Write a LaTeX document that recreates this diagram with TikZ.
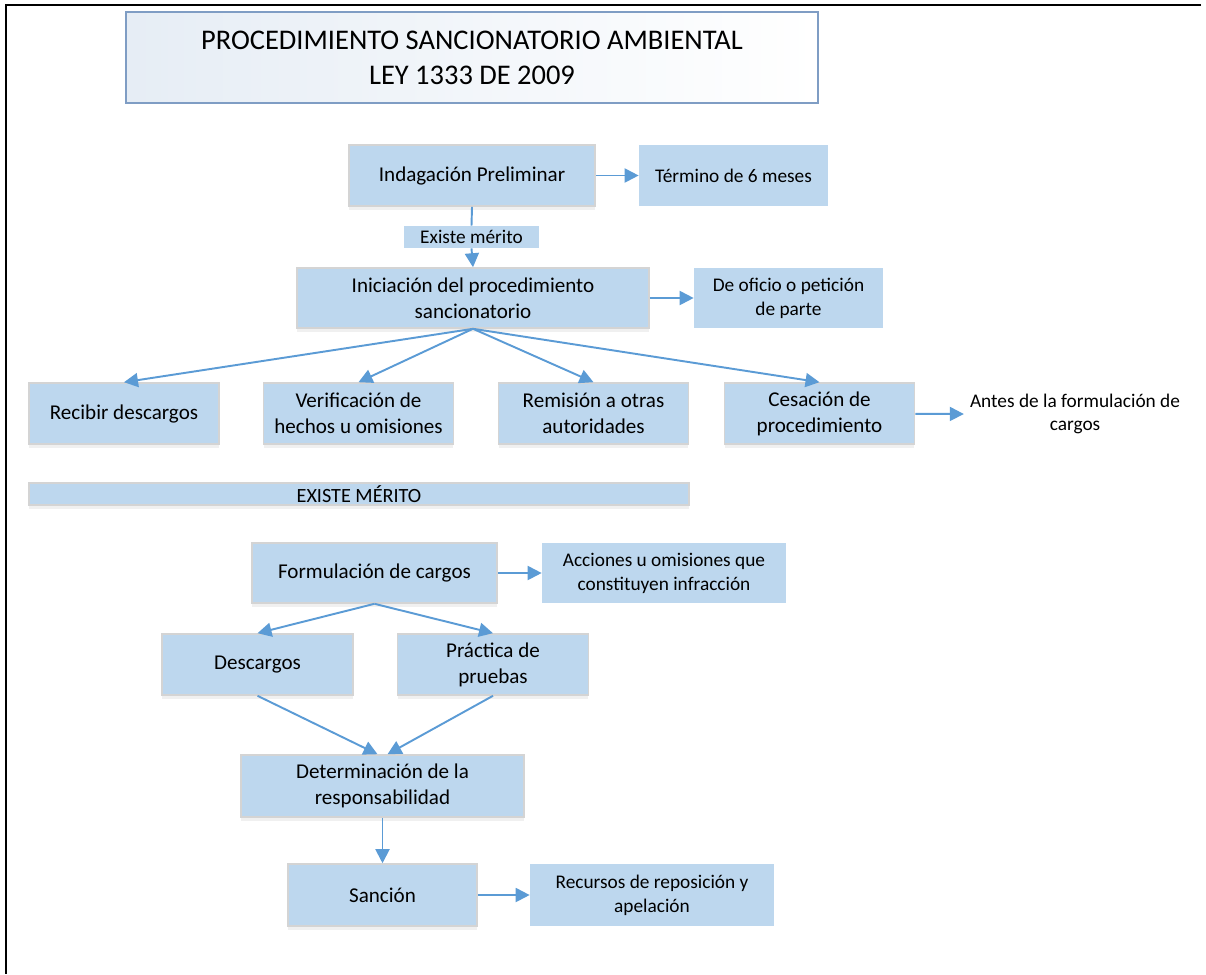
\documentclass[tikz,border=0pt]{standalone}
\usepackage{fontspec}
\setmainfont{Carlito}
\usepackage{tikz}
\usetikzlibrary{arrows.meta,shadows}
\definecolor{boxblue}{HTML}{BDD7EE}
\definecolor{arrblue}{HTML}{5B9BD5}
\definecolor{titleline}{HTML}{7F9DC4}
\definecolor{titleshade}{HTML}{E6EDF5}
\tikzset{
  box/.style={draw=black!17, line width=0.9pt, fill=boxblue, align=center, inner sep=2pt,
    font=\fontsize{12}{14.8}\selectfont,
    drop shadow={opacity=0.12, shadow xshift=0pt, shadow yshift=-2pt}},
  note/.style={fill=boxblue, align=center, inner sep=2pt, font=\fontsize{11}{13.7}\selectfont},
  bar/.style={box, font=\fontsize{11.5}{14}\selectfont},
  arr/.style={-{Triangle[length=2.8mm,width=2.8mm]}, draw=arrblue, line width=1.1pt},
  lnk/.style={draw=arrblue, line width=1.1pt}
}

\begin{document}
\begin{tikzpicture}[x=0.02cm,y=-0.02cm]

\useasboundingbox (0,0) rectangle (1206,974);
\draw[line width=1.7pt] (1201,5) -- (6,5) -- (6,974);

\node[draw=titleline, line width=0.8pt, left color=titleshade, right color=white, align=center,
  minimum width=13.84cm, minimum height=1.82cm, font=\fontsize{16.2}{20}\selectfont] (title) at (472,57.5)
  {PROCEDIMIENTO SANCIONATORIO AMBIENTAL\\LEY 1333 DE 2009};

\node[box, minimum width=4.92cm, minimum height=1.22cm] (indag) at (472,175.5) {Indagación Preliminar};
\node[note, minimum width=3.78cm, minimum height=1.22cm] (termino) at (733.5,175.5) {Término de 6 meses};
\node[note, minimum width=2.7cm, minimum height=0.44cm] (merito) at (471.5,237) {Existe mérito};
\node[box, minimum width=7.04cm, minimum height=1.2cm] (inic) at (473,298) {Iniciación del procedimiento\\sancionatorio};
\node[note, minimum width=3.78cm, minimum height=1.2cm] (oficio) at (788.5,298) {De oficio o petición\\de parte};

\node[box, minimum width=3.8cm, minimum height=1.22cm] (recibir) at (124,413.5) {Recibir descargos};
\node[box, minimum width=3.8cm, minimum height=1.22cm] (verif) at (358.5,413.5) {Verificación de\\hechos u omisiones};
\node[box, minimum width=3.8cm, minimum height=1.22cm] (remision) at (593.5,413.5) {Remisión a otras\\autoridades};
\node[box, minimum width=3.8cm, minimum height=1.22cm] (cesacion) at (819.5,413.5) {Cesación de\\procedimiento};
\node[align=center, font=\fontsize{11}{12.6}\selectfont] (antes) at (1075,414) {Antes de la formulación de\\cargos};

\node[bar, minimum width=13.2cm, minimum height=0.44cm, inner sep=0pt] (existe) at (359,494) {EXISTE MÉRITO};

\node[box, minimum width=4.9cm, minimum height=1.2cm] (formul) at (374.5,573) {Formulación de cargos};
\node[note, minimum width=4.88cm, minimum height=1.2cm] (acciones) at (664,573) {Acciones u omisiones que\\constituyen infracción};
\node[box, minimum width=3.82cm, minimum height=1.22cm] (descargos) at (257.5,664.5) {Descargos};
\node[box, minimum width=3.82cm, minimum height=1.22cm] (practica) at (493,664.5) {Práctica de\\pruebas};
\node[box, minimum width=5.66cm, minimum height=1.24cm] (determ) at (382.5,786) {Determinación de la\\responsabilidad};
\node[box, minimum width=3.78cm, minimum height=1.24cm] (sancion) at (382.5,895) {Sanción};
\node[note, minimum width=4.88cm, minimum height=1.24cm] (recursos) at (652,895) {Recursos de reposición y\\apelación};

\draw[arr] (indag) -- (termino);
\draw[lnk] (indag.south) -- (merito.north);
\draw[arr] (merito.south) -- (inic.north);
\draw[arr] (inic) -- (oficio);
\foreach \b in {recibir,verif,remision,cesacion}
  \draw[arr] (inic.south) -- (\b.north);
\draw[arr] (cesacion) -- (antes.west);

\draw[arr] (formul) -- (acciones);
\draw[arr] (formul.south) -- (descargos.north);
\draw[arr] (formul.south) -- (practica.north);
\draw[arr] (descargos.south) -- ([xshift=-0.1cm]determ.north);
\draw[arr] (practica.south) -- ([xshift=0.1cm]determ.north);
\draw[arr] (determ) -- (sancion);
\draw[arr] (sancion) -- (recursos);

\end{tikzpicture}
\end{document}
